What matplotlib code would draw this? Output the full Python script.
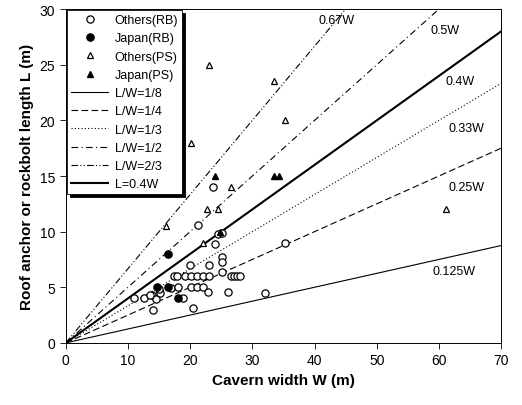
import numpy as np
import matplotlib
matplotlib.use('Agg')
import matplotlib.pyplot as plt

plt.rcParams['font.family'] = ['Liberation Sans', 'DejaVu Sans']

# Others(RB) - open circles
others_rb_w = [11.0, 12.5, 13.8, 14.0, 14.5, 13.5, 15.2, 17.0, 18.0, 18.9, 20.5,
               17.4, 17.9, 19.2, 20.2, 21.1, 22.1, 23.1, 20.0, 23.1,
               20.2, 21.1, 22.1, 22.9, 26.1, 32.0,
               25.1, 25.1, 25.1, 26.5, 27.0, 27.5, 28.0,
               24.0, 24.5, 25.1, 21.3, 23.7, 35.2, 15.0]
others_rb_l = [4.0, 4.0, 4.3, 3.0, 3.9, 4.3, 4.5, 4.9, 5.0, 4.0, 3.1,
               6.0, 6.0, 6.0, 6.0, 6.0, 6.0, 6.0, 7.0, 7.0,
               5.0, 5.0, 5.0, 4.6, 4.6, 4.5,
               7.7, 7.3, 6.4, 6.0, 6.0, 6.0, 6.0,
               8.9, 9.8, 9.9, 10.6, 14.0, 9.0, 4.8]
# Japan(RB) - filled circles
japan_rb_w = [14.7, 16.5, 18.0, 16.5]
japan_rb_l = [5.0, 5.0, 4.0, 8.0]
# Others(PS) - open triangles
others_ps_w = [23.0, 20.2, 33.5, 35.2, 61.1, 16.1, 22.7, 24.5, 26.6, 22.1]
others_ps_l = [25.0, 18.0, 23.5, 20.0, 12.0, 10.5, 12.0, 12.0, 14.0, 9.0]
# Japan(PS) - filled triangles
japan_ps_w = [24.0, 33.5, 34.3, 24.8]
japan_ps_l = [15.0, 15.0, 15.0, 10.0]

ratios = [1/8, 1/4, 1/3, 1/2, 2/3]
ratio_labels = ['L/W=1/8', 'L/W=1/4', 'L/W=1/3', 'L/W=1/2', 'L/W=2/3']
ratio_styles = ['-', (0, (6, 3)), (0, (1, 2)), (0, (6, 3, 1, 3)), (0, (6, 2, 1, 2, 1, 2))]
line_texts = ['0.125W', '0.25W', '0.33W', '0.5W', '0.67W', '0.4W']
text_x = [59, 61.6, 61.6, 58.7, 40.6, 61.0]
text_y = [6.5, 14.0, 19.3, 28.1, 29.0, 23.5]

fig = plt.figure(figsize=(5.22, 4.06), dpi=100)
ax = fig.add_axes([0.126, 0.153, 0.834, 0.822])

ax.plot(others_rb_w, others_rb_l, 'o', mfc='white', mec='black', ms=5.2, mew=0.9,
        ls='none', label='Others(RB)', zorder=3)
ax.plot(japan_rb_w, japan_rb_l, 'o', mfc='black', mec='black', ms=5.2,
        ls='none', label='Japan(RB)', zorder=4)
ax.plot(others_ps_w, others_ps_l, '^', mfc='white', mec='black', ms=4.8, mew=0.9,
        ls='none', label='Others(PS)', zorder=3)
ax.plot(japan_ps_w, japan_ps_l, '^', mfc='black', mec='black', ms=5,
        ls='none', label='Japan(PS)', zorder=4)

xs = np.array([0, 70])
for r, lab, st in zip(ratios, ratio_labels, ratio_styles):
    ax.plot(xs, r * xs, color='black', ls=st, lw=0.8, label=lab)
ax.plot(xs, 0.4 * xs, color='black', ls='-', lw=1.5, label='L=0.4W')

for t, tx, ty in zip(line_texts, text_x, text_y):
    ax.text(tx, ty, t, fontsize=9, va='center', ha='left')

ax.set_xlim(0, 70)
ax.set_ylim(0, 30)
ax.set_xticks(range(0, 71, 10))
ax.set_yticks(range(0, 31, 5))
ax.tick_params(direction='out', length=4, width=0.6, labelsize=10)
for s in ax.spines.values():
    s.set_linewidth(0.7)

ax.set_xlabel('Cavern width W (m)', fontsize=11, fontweight='bold')
ax.set_ylabel('Roof anchor or rockbolt length L (m)', fontsize=11, fontweight='bold')

leg = ax.legend(loc='upper left', fontsize=9, frameon=True, fancybox=False,
                shadow={'color': 'black', 'alpha': 1}, handlelength=3,
                borderaxespad=0.1, labelspacing=0.5, handletextpad=0.5,
                borderpad=0.3)
leg.get_frame().set_edgecolor('black')
leg.get_frame().set_linewidth(0.6)

fig.savefig('out.png', dpi=100)
